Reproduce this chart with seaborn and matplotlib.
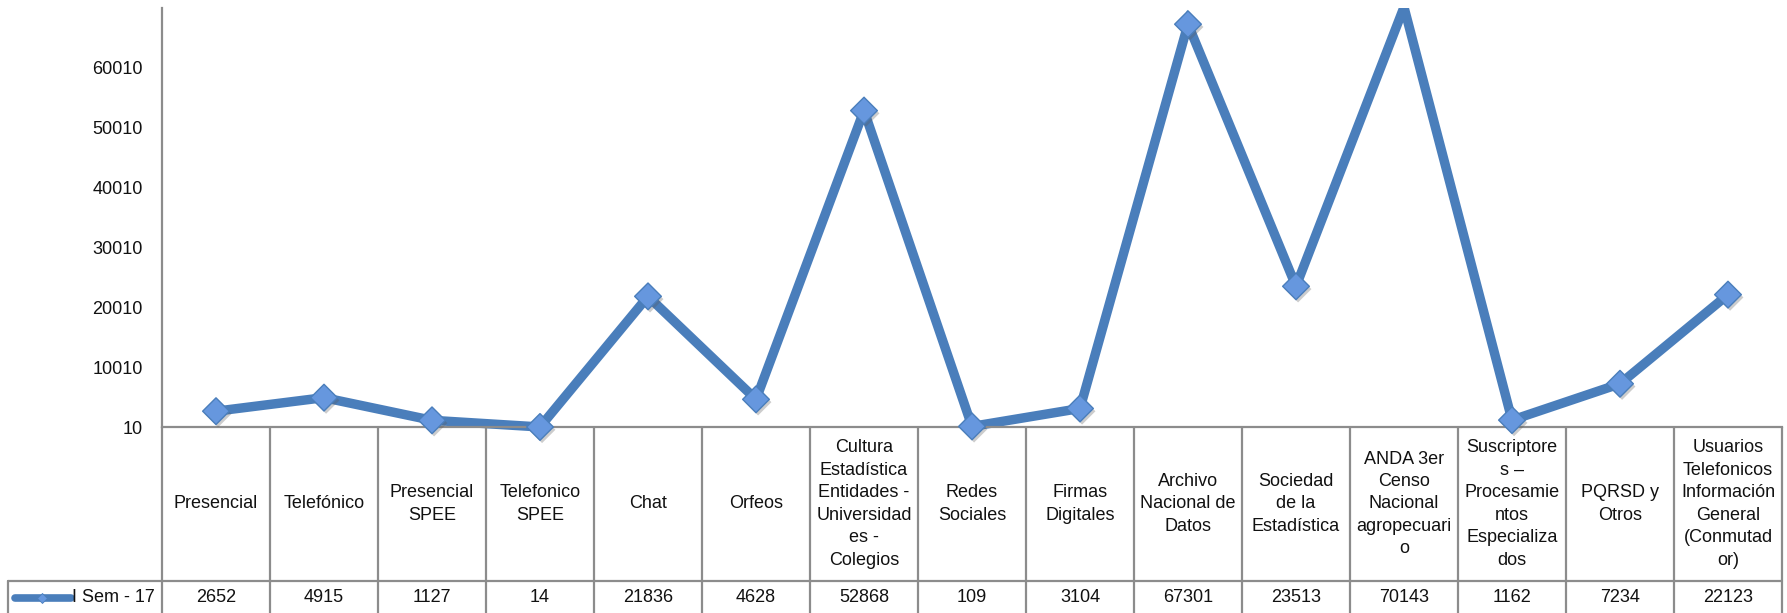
import numpy as np
import pandas as pd
import matplotlib
matplotlib.use("Agg")
import matplotlib.pyplot as plt
import matplotlib.patheffects as pe
from matplotlib import font_manager as fm
from matplotlib.patches import Rectangle
import seaborn as sns

# ---- data -------------------------------------------------------------
categorias = [
    "Presencial",
    "Telefónico",
    "Presencial\nSPEE",
    "Telefonico\nSPEE",
    "Chat",
    "Orfeos",
    "Cultura\nEstadística\nEntidades -\nUniversidad\nes -\nColegios",
    "Redes\nSociales",
    "Firmas\nDigitales",
    "Archivo\nNacional de\nDatos",
    "Sociedad\nde la\nEstadística",
    "ANDA 3er\nCenso\nNacional\nagropecuari\no",
    "Suscriptore\ns –\nProcesamie\nntos\nEspecializa\ndos",
    "PQRSD y\nOtros",
    "Usuarios\nTelefonicos\nInformación\nGeneral\n(Conmutad\nor)",
]
valores = [2652, 4915, 1127, 14, 21836, 4628, 52868, 109, 3104,
           67301, 23513, 70143, 1162, 7234, 22123]
serie = "I Sem - 17"
y_ticks = [10, 10010, 20010, 30010, 40010, 50010, 60010]
y_max = 70010

# ---- style --------------------------------------------------------------
sns.set_theme(style="white")
names = {f.name for f in fm.fontManager.ttflist}
if "Liberation Sans Narrow" in names:
    FONT, FS = "Liberation Sans Narrow", 15.5
else:
    FONT, FS = "Liberation Sans", 13
plt.rcParams["font.family"] = [FONT, "DejaVu Sans"]

LINE = "#4A7EBB"
FACE = "#6697DE"
GRID = "#8C8C8C"
TXT = "#111111"

W, H, DPI = 1787, 613, 100
fig = plt.figure(figsize=(W / DPI, H / DPI), dpi=DPI)

x0, x1 = 162, 1782          # plot area, pixels from left
ytop, ybase = 8, 427        # plot area, pixels from top
row_split = 581             # header row / value row boundary

ax = fig.add_axes([x0 / W, (H - ybase) / H, (x1 - x0) / W, (ybase - ytop) / H])

df = pd.DataFrame({"pos": np.arange(len(valores)), "valor": valores,
                   "categoria": categorias})

clip = Rectangle((0, -0.2), 1, 1.2, transform=ax.transAxes)

sns.lineplot(data=df, x="pos", y="valor", ax=ax, color=LINE, linewidth=6.8,
             sort=False, legend=False)
for ln in ax.lines:
    ln.set_clip_path(clip)
    ln.set_solid_joinstyle("miter")

visible = df[df["valor"] <= y_max]
sns.scatterplot(data=visible, x="pos", y="valor", ax=ax, marker="D", s=185,
                color=FACE, edgecolor=LINE, linewidth=1.0, legend=False, zorder=5)
for coll in ax.collections:
    coll.set_clip_path(clip)
    coll.set_path_effects([pe.SimplePatchShadow(offset=(1.5, -2.0),
                                                shadow_rgbFace="0.35", alpha=0.3),
                           pe.Normal()])

ax.set_xlim(-0.5, len(valores) - 0.5)
ax.set_ylim(y_ticks[0], y_max)
ax.set_yticks(y_ticks)
ax.set_yticklabels([str(t) for t in y_ticks], fontsize=FS, color=TXT)
ax.set_xticks([])
ax.set_xlabel("")
ax.set_ylabel("")
ax.tick_params(axis="y", length=0, pad=14)
for side in ("top", "right"):
    ax.spines[side].set_visible(False)
for side in ("left", "bottom"):
    ax.spines[side].set_color(GRID)
    ax.spines[side].set_linewidth(1.6)

# ---- data table below the plot -------------------------------------------
tab = fig.add_axes([x0 / W, 0, (x1 - x0) / W, (H - ybase) / H], sharex=ax)
tab.set_ylim(0, H - ybase)
tab.axis("off")
split = H - row_split
n = len(valores)
for i in range(n + 1):
    tab.plot([i - 0.5, i - 0.5], [-2, H - ybase], color=GRID, lw=1.6,
             clip_on=False, solid_capstyle="butt")
tab.plot([-0.5, n - 0.5], [split, split], color=GRID, lw=1.6, clip_on=False)
for i, (lab, v) in enumerate(zip(categorias, valores)):
    tab.text(i, (split + H - ybase) / 2, lab, ha="center", va="center",
             fontsize=FS, linespacing=1.42, color=TXT)
    tab.text(i, split / 2, f"{v}", ha="center", va="center",
             fontsize=FS, color=TXT)

# legend cell at the left of the value row
leg = fig.add_axes([0, 0, x0 / W, split / H])
leg.set_xlim(0, x0)
leg.set_ylim(0, split)
leg.axis("off")
leg.plot([8, x0], [split, split], color=GRID, lw=1.6, clip_on=False)
leg.plot([8, 8], [-2, split], color=GRID, lw=1.6, clip_on=False)
leg.plot([15, 71], [split / 2 - 1, split / 2 - 1], color=LINE, lw=5.5,
         solid_capstyle="round")
leg.plot([42], [split / 2 - 1], marker="D", ms=5, color=FACE, mec=LINE, mew=0.6)
leg.text(155, split / 2, serie, ha="right", va="center", fontsize=FS,
         color=TXT)

fig.savefig("out.png", dpi=DPI)
